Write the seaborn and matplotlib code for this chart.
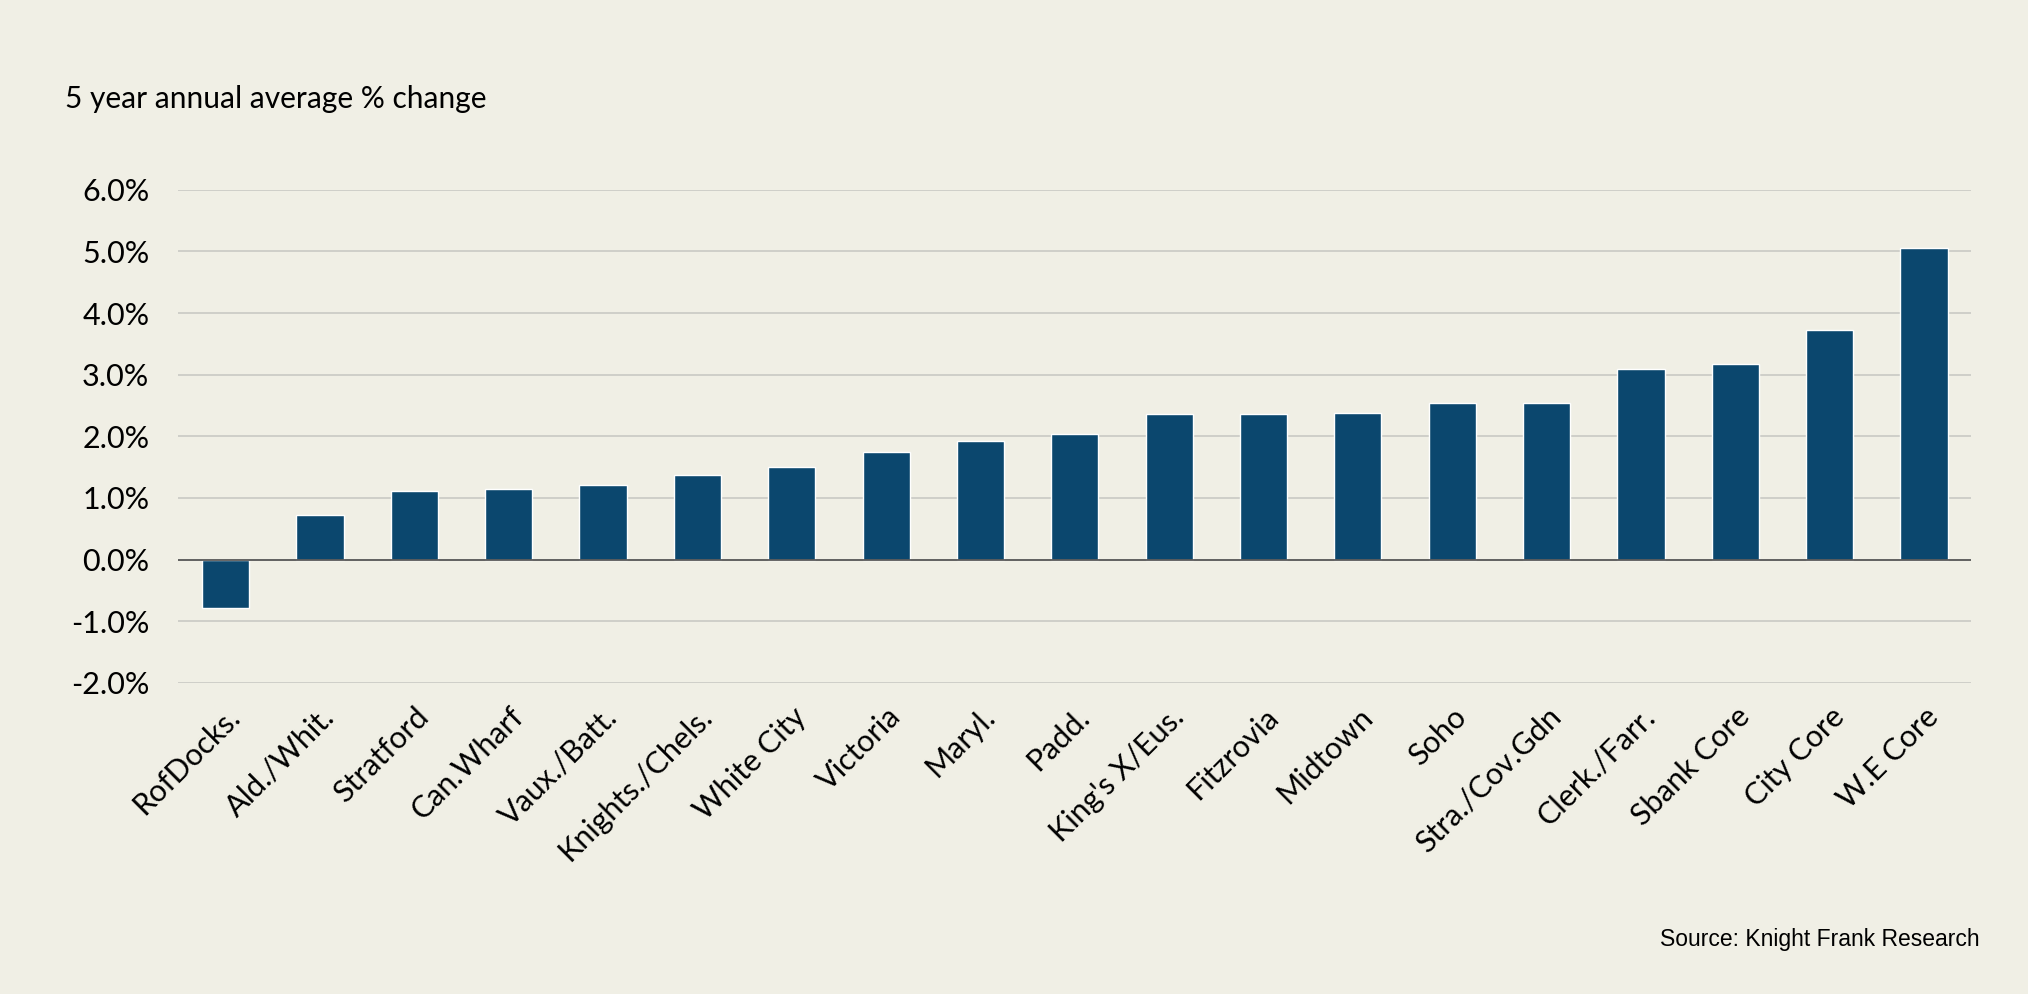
'''Knight Frank - 5 year annual average % change by submarket'''

import matplotlib
matplotlib.use('Agg')
import matplotlib.pyplot as plt
import matplotlib.ticker as mtick
import seaborn as sns
import pandas as pd

#data
areas = ['RofDocks.', 'Ald./Whit.', 'Stratford', 'Can.Wharf', 'Vaux./Batt.',
         'Knights./Chels.', 'White City', 'Victoria', 'Maryl.', 'Padd.',
         "King's X/Eus.", 'Fitzrovia', 'Midtown', 'Soho', 'Stra./Cov.Gdn',
         'Clerk./Farr.', 'Sbank Core', 'City Core', 'W.E Core']
change = [-0.79, 0.73, 1.11, 1.15, 1.21, 1.38, 1.51, 1.75, 1.92, 2.04,
          2.37, 2.37, 2.38, 2.54, 2.54, 3.10, 3.18, 3.72, 5.06]
y_ticks = [-2, -1, 0, 1, 2, 3, 4, 5, 6]

bg = '#F0EFE5'
bar_col = '#0B476E'

df = pd.DataFrame({'Area': areas, 'Change': change})

sns.set_theme(style='white')
plt.rcParams['font.family'] = ['Lato', 'DejaVu Sans']

fig = plt.figure(figsize=(20.28, 9.94), dpi=100, facecolor=bg)
ax = fig.add_axes([0.088, 0.313, 0.884, 0.496])
ax.set_facecolor(bg)

sns.barplot(data=df, x='Area', y='Change', color=bar_col, width=0.5,
            saturation=1, ax=ax)

#axes
ax.set_ylim(-2, 6)
ax.set_xlim(-0.5, len(areas) - 0.5)
ax.set_yticks(y_ticks)
ax.yaxis.set_major_formatter(mtick.FuncFormatter(lambda v, p: f'{v:.1f}%'))
ax.grid(axis='y', color='#C9C9C4', linewidth=1.2)
ax.set_axisbelow(True)
ax.axhline(0, color='#595959', linewidth=1.3, zorder=3)
for s in ax.spines.values():
    s.set_visible(False)
ax.set_xlabel('')
ax.set_ylabel('')
ax.tick_params(axis='y', labelsize=22, length=0, pad=21, labelcolor='#000000')
ax.tick_params(axis='x', labelsize=22, length=0, pad=14, labelcolor='#000000')
plt.setp(ax.get_xticklabels(), rotation=45, ha='right', rotation_mode='anchor')

#text
fig.text(0.032, 0.9, '5 year annual average % change', fontsize=21.5,
         color='#000000', va='center', ha='left')
fig.text(0.976, 0.055, 'Source: Knight Frank Research', fontsize=16.5,
         family=['Liberation Sans', 'DejaVu Sans'], color='#000000',
         ha='right', va='center')

plt.savefig('out.png', dpi=100, facecolor=bg)
